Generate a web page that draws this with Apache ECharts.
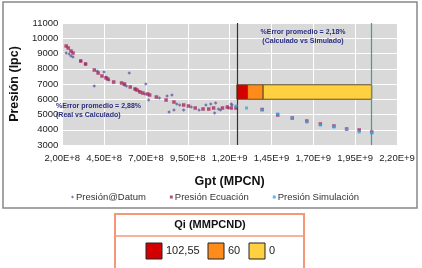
<!DOCTYPE html>
<html>
<head>
<meta charset="utf-8">
<script src="https://cdn.jsdelivr.net/npm/echarts@6/dist/echarts.min.js"></script>
<style>
  * { margin: 0; padding: 0; }
  body { background: #fff; }
  #mychart { width: 422px; height: 268px; }
</style>
</head>
<body>
<div id="mychart"></div>
<script>
// Presión@Datum (medido)
const datumGpt = [2.23e8, 2.41e8, 2.52e8, 2.64e8, 3.10e8, 3.39e8, 3.91e8, 4.09e8, 4.49e8, 4.61e8, 4.78e8, 5.71e8, 5.83e8, 6.00e8,
  6.35e8, 6.58e8, 6.93e8, 6.99e8, 7.16e8, 7.80e8, 8.26e8, 8.38e8, 8.55e8, 8.67e8, 8.84e8, 9.01e8, 9.25e8, 9.71e8,
  10.17e8, 10.58e8, 10.87e8, 11.10e8, 11.16e8, 11.33e8, 11.45e8, 11.91e8, 12.09e8, 12.14e8];
const datumPres = [9033, 8967, 8836, 8770, 8508, 8312, 6869, 7853, 7787, 7459, 7263, 6935, 6869, 7721,
  6672, 6541, 6344, 7000, 5951, 6082, 6213, 5164, 6279, 5295, 5689, 5623, 5295, 5492,
  5295, 5623, 5689, 5098, 5754, 5361, 5295, 5426, 5689, 5623];

// Presión Ecuación
const ecuGpt = [2.23e8, 2.35e8, 2.52e8, 2.64e8, 3.10e8, 3.39e8, 3.91e8, 4.14e8, 4.37e8, 4.61e8, 4.72e8, 5.07e8, 5.54e8, 5.71e8,
  6.06e8, 6.35e8, 6.46e8, 6.64e8, 6.81e8, 7.10e8, 7.22e8, 7.62e8, 8.20e8, 8.67e8, 9.25e8, 9.54e8, 9.94e8, 10.41e8,
  10.75e8, 11.04e8, 11.57e8, 11.86e8, 12.09e8, 12.38e8, 13.94e8, 14.87e8, 15.74e8, 16.61e8, 17.42e8, 18.23e8,
  18.99e8, 19.74e8, 20.49e8];
const ecuPres = [9492, 9361, 9164, 9033, 8508, 8312, 7918, 7721, 7525, 7394, 7328, 7131, 7066, 7000,
  6803, 6672, 6607, 6476, 6410, 6344, 6279, 6148, 5951, 5820, 5623, 5557, 5426, 5361,
  5361, 5426, 5426, 5492, 5426, 5426, 5330, 4967, 4770, 4574, 4377, 4246,
  4049, 3984, 3852];

// Presión Simulación
const simGpt = [12.38e8, 13.01e8, 13.94e8, 14.87e8, 15.74e8, 16.61e8, 17.42e8, 18.23e8, 18.99e8, 19.74e8, 20.49e8];
const simPres = [5557, 5426, 5295, 5033, 4770, 4508, 4312, 4180, 4049, 3853, 3787];

// Qi (MMPCND) franja
const qiLabels = ['102,55', '60', '0'];
const qiColors = ['#d40000', '#ff8c1a', '#ffd040'];
const qiBreaks = [1.243e9, 1.307e9, 1.40e9, 2.049e9];
const qiBand = [6000, 6950];
const limitLines = [1.243e9, 2.049e9];

const seriesNames = ['Presión@Datum', 'Presión Ecuación', 'Presión Simulación'];

function pairs(xs, ys) { return xs.map((x, i) => [x, ys[i]]); }

function sciLabel(v) {
  const e = Math.floor(Math.log10(v) + 1e-9);
  const m = v / Math.pow(10, e);
  return m.toFixed(2).replace('.', ',') + 'E+' + e;
}

const chart = echarts.init(document.getElementById('mychart'));

const bandAreas = [];
for (let i = 0; i < qiLabels.length; i++) {
  bandAreas.push([
    { coord: [qiBreaks[i], qiBand[1]], itemStyle: { color: qiColors[i], borderColor: '#5a4a2a', borderWidth: 1 } },
    { coord: [qiBreaks[i + 1], qiBand[0]] }
  ]);
}

const font = 'Liberation Sans, Arial, sans-serif';

const qiGraphics = [];
const qiX = [146, 208, 249];
qiLabels.forEach((lab, i) => {
  qiGraphics.push({ type: 'rect', shape: { x: qiX[i], y: 243, width: 16, height: 16 },
    style: { fill: qiColors[i], stroke: '#222', lineWidth: 1 } });
  qiGraphics.push({ type: 'text', x: qiX[i] + 20, y: 251,
    style: { text: lab, font: '11px ' + font, fill: '#222', textVerticalAlign: 'middle' } });
});

const noteFont = 'bold 7px ' + font;

const option = {
  animation: false,
  textStyle: { fontFamily: font },
  grid: { left: 52, right: 25, top: 23, bottom: 123, show: true, backgroundColor: '#d9d9d9', borderWidth: 0 },
  legend: {
    data: seriesNames,
    left: 66, top: 187,
    itemWidth: 3, itemHeight: 3, itemGap: 24,
    textStyle: { fontSize: 9.5, color: '#333', padding: [0, 0, 0, -3] }
  },
  xAxis: {
    type: 'value', min: 2e8, max: 2.2e9, interval: 2.5e8,
    name: 'Gpt (MPCN)', nameLocation: 'middle', nameGap: 30,
    nameTextStyle: { fontSize: 12.5, fontWeight: 'bold', color: '#111' },
    axisLine: { show: false }, axisTick: { show: false },
    axisLabel: { fontSize: 9.5, color: '#222', margin: 8, formatter: sciLabel },
    splitLine: { lineStyle: { color: '#ffffff', width: 1 } }
  },
  yAxis: {
    type: 'value', min: 3000, max: 11000, interval: 1000,
    name: 'Presión (lpc)', nameLocation: 'middle', nameGap: 31,
    nameTextStyle: { fontSize: 12.5, fontWeight: 'bold', color: '#111' },
    axisLine: { show: false }, axisTick: { show: false },
    axisLabel: { fontSize: 9.5, color: '#222', margin: 4, formatter: v => String(v) },
    splitLine: { lineStyle: { color: '#ffffff', width: 1 } }
  },
  series: [
    {
      name: seriesNames[0], type: 'scatter', symbol: 'diamond', symbolSize: 3.5,
      itemStyle: { color: '#5b5ba0' }, data: pairs(datumGpt, datumPres), z: 3,
      markLine: {
        silent: true, symbol: ['none', 'none'], label: { show: false },
        data: [
          { xAxis: limitLines[0], lineStyle: { color: '#333', width: 1.2, type: 'solid' } },
          { xAxis: limitLines[1], lineStyle: { color: '#3a9e9a', width: 1.2, type: 'solid' } }
        ]
      },
      markArea: { silent: true, data: bandAreas }
    },
    {
      name: seriesNames[1], type: 'scatter', symbol: 'rect', symbolSize: 3.5,
      itemStyle: { color: '#a8285c' }, data: pairs(ecuGpt, ecuPres), z: 4
    },
    {
      name: seriesNames[2], type: 'scatter', symbol: 'rect', symbolSize: 3,
      itemStyle: { color: '#2ea8e8' }, data: pairs(simGpt, simPres), z: 5
    }
  ],
  graphic: [
    { type: 'rect', shape: { x: 3, y: 2, width: 414, height: 206 }, style: { fill: 'none', stroke: '#888', lineWidth: 1.5 }, z: 100 },
    { type: 'text', x: 303, y: 32, style: { text: '%Error promedio = 2,18%', font: noteFont, fill: '#2a2f80', textAlign: 'center', textVerticalAlign: 'middle' }, z: 100 },
    { type: 'text', x: 303, y: 41, style: { text: '(Calculado vs Simulado)', font: noteFont, fill: '#2a2f80', textAlign: 'center', textVerticalAlign: 'middle' }, z: 100 },
    { type: 'text', x: 56, y: 106, style: { text: '%Error promedio = 2,88%', font: noteFont, fill: '#2a2f80', textVerticalAlign: 'middle' }, z: 100 },
    { type: 'text', x: 56, y: 115, style: { text: '(Real vs Calculado)', font: noteFont, fill: '#2a2f80', textVerticalAlign: 'middle' }, z: 100 },
    { type: 'rect', shape: { x: 115, y: 214, width: 189, height: 60 }, style: { fill: '#fff', stroke: '#f7977a', lineWidth: 2 }, z: 100 },
    { type: 'line', shape: { x1: 115, y1: 236, x2: 304, y2: 236 }, style: { stroke: '#f7977a', lineWidth: 1.5 }, z: 100 },
    { type: 'text', x: 210, y: 225, style: { text: 'Qi (MMPCND)', font: 'bold 11px ' + font, fill: '#111', textAlign: 'center', textVerticalAlign: 'middle' }, z: 100 }
  ].concat(qiGraphics.map(g => Object.assign({ z: 101 }, g)))
};

chart.setOption(option);
window.addEventListener('resize', function () {
  chart.resize();
});
</script>
</body>
</html>
